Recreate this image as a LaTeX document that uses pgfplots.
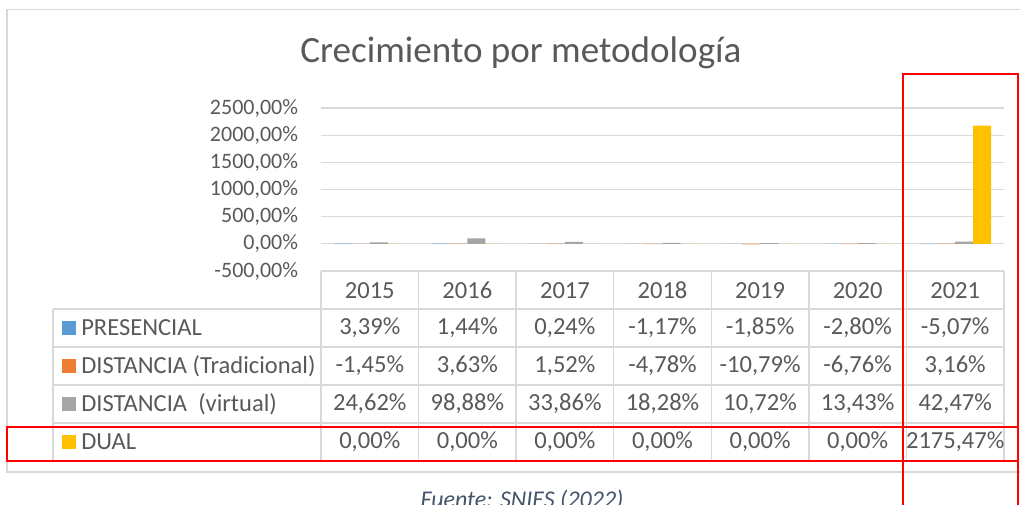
\documentclass[border=0pt]{standalone}
\usepackage{pgfplots}
\pgfplotsset{compat=1.18}
\usepackage{fontspec}
\setmainfont{Carlito}
\definecolor{pres}{HTML}{5B9BD5}
\definecolor{trad}{HTML}{ED7D31}
\definecolor{virt}{HTML}{A5A5A5}
\definecolor{dual}{HTML}{FFC000}
\definecolor{txt}{HTML}{595959}
\definecolor{gridc}{HTML}{D9D9D9}
\definecolor{src}{HTML}{44546A}
\newcommand{\tabfont}{\fontsize{18.4pt}{20pt}\selectfont}
\newcommand{\cell}[3]{\node[text=txt,font=\tabfont,inner sep=0pt] at ({321+97.571*(#1+0.5)},#2) {#3};}
\newcommand{\legkey}[3]{%
  \fill[#2] (62,#1-7) rectangle (76,#1+7);
  \node[text=txt,font=\tabfont,anchor=west,inner sep=0pt] at (81,#1) {#3};}
\begin{document}
\begin{tikzpicture}
\useasboundingbox (0pt,0pt) rectangle (765pt,378.75pt);
\begin{scope}[x=0.75pt,y=0.75pt]
% outer chart border
\draw[gridc,line width=1.1pt] (1030,495.5) -- (7,495.5) -- (7,33) -- (1030,33);
% title
\node[text=txt,font=\fontsize{27.8pt}{30pt}\selectfont,anchor=base,inner sep=0pt] at (521,442) {Crecimiento por metodología};
\end{scope}
\begin{axis}[
  at={(240.75pt,175.5pt)}, anchor=south west,
  width=512.25pt, height=122.25pt, scale only axis,
  ybar=0pt, bar width=13.5pt,
  xmin=-0.5, xmax=6.5,
  ymin=-500, ymax=2500,
  ytick={-500,0,500,1000,1500,2000,2500},
  xtick=data,
  xticklabels={2015,2016,2017,2018,2019,2020,2021},
  axis line style={draw=none},
  major tick style={draw=none},
  ymajorgrids, grid style={gridc,line width=0.9pt},
  /pgf/number format/assume math mode=true,
  yticklabel={\pgfmathprintnumber[fixed,fixed zerofill,precision=2,use comma,1000 sep={}]{\tick}\%},
  yticklabel style={text=txt,font=\fontsize{16.5pt}{18pt}\selectfont,anchor=east,inner sep=0pt,xshift=-17pt},
  xticklabel style={text=txt,font=\tabfont,anchor=center,inner sep=0pt,yshift=-10.5pt},
  clip=false,
]
\addplot[fill=pres,draw=none] coordinates {(0,3.39) (1,1.44) (2,0.24) (3,-1.17) (4,-1.85) (5,-2.80) (6,-5.07)};
\addplot[fill=trad,draw=none] coordinates {(0,-1.45) (1,3.63) (2,1.52) (3,-4.78) (4,-10.79) (5,-6.76) (6,3.16)};
\addplot[fill=virt,draw=none] coordinates {(0,24.62) (1,98.88) (2,33.86) (3,18.28) (4,10.72) (5,13.43) (6,42.47)};
\addplot[fill=dual,draw=none] coordinates {(0,0) (1,0) (2,0) (3,0) (4,0) (5,0) (6,2175.47)};
\end{axis}
\begin{scope}[x=0.75pt,y=0.75pt]
% data table grid
\begin{scope}[gridc,line width=1.1pt]
\foreach \k in {0,...,7} {\draw ({321+97.571*\k},234) -- ({321+97.571*\k},44);}
\draw (53,196) -- (53,44);
\foreach \yy in {196,158,120,82,44} {\draw (53,\yy) -- (1004,\yy);}
\draw (321,234) -- (1004,234);
\end{scope}
% legend keys
\legkey{177}{pres}{PRESENCIAL}
\legkey{139}{trad}{DISTANCIA (Tradicional)}
\legkey{101}{virt}{DISTANCIA\ \ (virtual)}
\legkey{63}{dual}{DUAL}
% row PRESENCIAL
\cell{0}{177}{3,39\%}\cell{1}{177}{1,44\%}\cell{2}{177}{0,24\%}\cell{3}{177}{-1,17\%}\cell{4}{177}{-1,85\%}\cell{5}{177}{-2,80\%}\cell{6}{177}{-5,07\%}
% row DISTANCIA (Tradicional)
\cell{0}{139}{-1,45\%}\cell{1}{139}{3,63\%}\cell{2}{139}{1,52\%}\cell{3}{139}{-4,78\%}\cell{4}{139}{-10,79\%}\cell{5}{139}{-6,76\%}\cell{6}{139}{3,16\%}
% row DISTANCIA (virtual)
\cell{0}{101}{24,62\%}\cell{1}{101}{98,88\%}\cell{2}{101}{33,86\%}\cell{3}{101}{18,28\%}\cell{4}{101}{10,72\%}\cell{5}{101}{13,43\%}\cell{6}{101}{42,47\%}
% row DUAL
\cell{0}{63}{0,00\%}\cell{1}{63}{0,00\%}\cell{2}{63}{0,00\%}\cell{3}{63}{0,00\%}\cell{4}{63}{0,00\%}\cell{5}{63}{0,00\%}\cell{6}{63}{2175,47\%}
% source
\node[text=src,font=\fontsize{18pt}{20pt}\selectfont\itshape,anchor=base,inner sep=0pt] at (522,-3) {Fuente: SNIES (2022)};
% red annotation boxes
\draw[red,line width=1.5pt] (903,-20) -- (903,431) -- (1018,431) -- (1018,-20);
\draw[red,line width=1.5pt] (7,78) rectangle (1018,44);
\end{scope}
\end{tikzpicture}
\end{document}
